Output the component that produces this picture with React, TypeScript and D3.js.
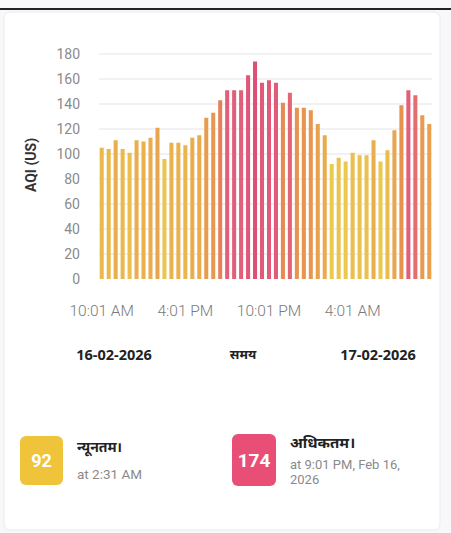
import * as d3 from "d3";

const WIDTH = 451;
const HEIGHT = 533;

// half-hourly AQI readings, 10:01 AM 16-02 onward
const aqiValues = [
  105, 104, 111, 104, 101, 111, 110, 113, 121, 96, 109, 109,
  107, 113, 115, 129, 133, 143, 151, 151, 151, 163, 174, 157,
  159, 157, 141, 149, 137, 137, 135, 124, 115, 92, 97, 94,
  101, 99, 99, 111, 94, 103, 119, 139, 151, 147, 131, 124,
];
const yTicks = [0, 20, 40, 60, 80, 100, 120, 140, 160, 180];
const xTickLabels = ["10:01 AM", "4:01 PM", "10:01 PM", "4:01 AM"];
const xTickIndex = [0, 12, 24, 36];
const dateLabels = ["16-02-2026", "समय", "17-02-2026"];

const MARGIN = { top: 54, left: 99, right: 19, bottom: 254 };

const App = () => {
  const boundsWidth = WIDTH - MARGIN.left - MARGIN.right;
  const boundsHeight = HEIGHT - MARGIN.top - MARGIN.bottom;

  const xScale = d3
    .scaleBand<number>()
    .domain(aqiValues.map((_, i) => i))
    .range([0, boundsWidth])
    .paddingInner(0.42)
    .paddingOuter(0.1);

  const yScale = d3.scaleLinear().domain([0, 180]).range([boundsHeight, 0]);

  const color = d3
    .scaleLinear<string>()
    .domain([92, 110, 140, 150, 174])
    .range(["#eccb4c", "#e9b04e", "#e8904e", "#e2607a", "#de4f74"])
    .clamp(true);

  const font = "Roboto, 'Noto Sans', sans-serif";

  return (
    <svg
      width={WIDTH}
      height={HEIGHT}
      style={{ position: "absolute", left: 0, top: 0, background: "#f8f8fa" }}
    >
      <rect x={0} y={8} width={WIDTH} height={2} fill="#222" />
      <rect x={4} y={12} width={436} height={518} rx={6} fill="#fff" stroke="#ebebef" />

      <g transform={`translate(${MARGIN.left},${MARGIN.top})`}>
        {yTicks.map((t) => (
          <g key={t}>
            {t > 0 && (
              <line x1={0} x2={boundsWidth} y1={yScale(t)} y2={yScale(t)} stroke="#e4e4ea" />
            )}
            <text
              x={-19}
              y={yScale(t)}
              textAnchor="end"
              dominantBaseline="central"
              fontSize={14}
              fill="#8a8a8a"
              fontFamily={font}
            >
              {t}
            </text>
          </g>
        ))}
        {aqiValues.map((v, i) => (
          <rect
            key={i}
            x={xScale(i)}
            y={yScale(v)}
            width={xScale.bandwidth()}
            height={yScale(0) - yScale(v)}
            fill={color(v)}
          />
        ))}
        {xTickLabels.map((label, i) => (
          <text
            key={label}
            x={(xScale(xTickIndex[i]) ?? 0) + xScale.bandwidth() / 2}
            y={boundsHeight + 32}
            textAnchor="middle"
            dominantBaseline="central"
            fontSize={15.5}
            fontWeight={300}
            fill="#7a7a7a"
            fontFamily={font}
          >
            {label}
          </text>
        ))}
      </g>

      <text
        transform="translate(31,165) rotate(-90)"
        textAnchor="middle"
        dominantBaseline="central"
        fontSize={14}
        fontWeight="bold"
        fill="#333"
        fontFamily={font}
      >
        AQI (US)
      </text>

      {dateLabels.map((d, i) => (
        <text
          key={d}
          x={[114, 243, 378][i]}
          y={354}
          textAnchor="middle"
          dominantBaseline="central"
          fontSize={d === "समय" ? 13 : 14.5}
          fontWeight="bold"
          fill="#222"
          fontFamily="'Open Sans', 'Noto Sans', sans-serif"
        >
          {d}
        </text>
      ))}

      <rect x={20} y={436} width={43} height={49} rx={6} fill="#efc43b" />
      <text x={41.5} y={460} textAnchor="middle" dominantBaseline="central" fontSize={18} fontWeight="bold" fill="#fff" fontFamily={font}>
        92
      </text>
      <text x={77} y={446} dominantBaseline="central" fontSize={14} fontWeight="bold" fill="#222" fontFamily="'Noto Sans', sans-serif">
        न्यूनतम।
      </text>
      <text x={77} y={474} dominantBaseline="central" fontSize={13.5} fill="#8a8a8a" fontFamily={font}>
        at 2:31 AM
      </text>

      <rect x={232} y={434} width={44} height={52} rx={6} fill="#e94f76" />
      <text x={254} y={460} textAnchor="middle" dominantBaseline="central" fontSize={19} fontWeight="bold" fill="#fff" fontFamily={font}>
        174
      </text>
      <text x={290} y={442} dominantBaseline="central" fontSize={15} fontWeight="bold" fill="#222" fontFamily="'Noto Sans', sans-serif">
        अधिकतम।
      </text>
      <text x={290} y={464} dominantBaseline="central" fontSize={13} fill="#8a8a8a" fontFamily={font}>
        at 9:01 PM, Feb 16,
      </text>
      <text x={290} y={479.5} dominantBaseline="central" fontSize={13} fill="#8a8a8a" fontFamily={font}>
        2026
      </text>
    </svg>
  );
};

export default App;
